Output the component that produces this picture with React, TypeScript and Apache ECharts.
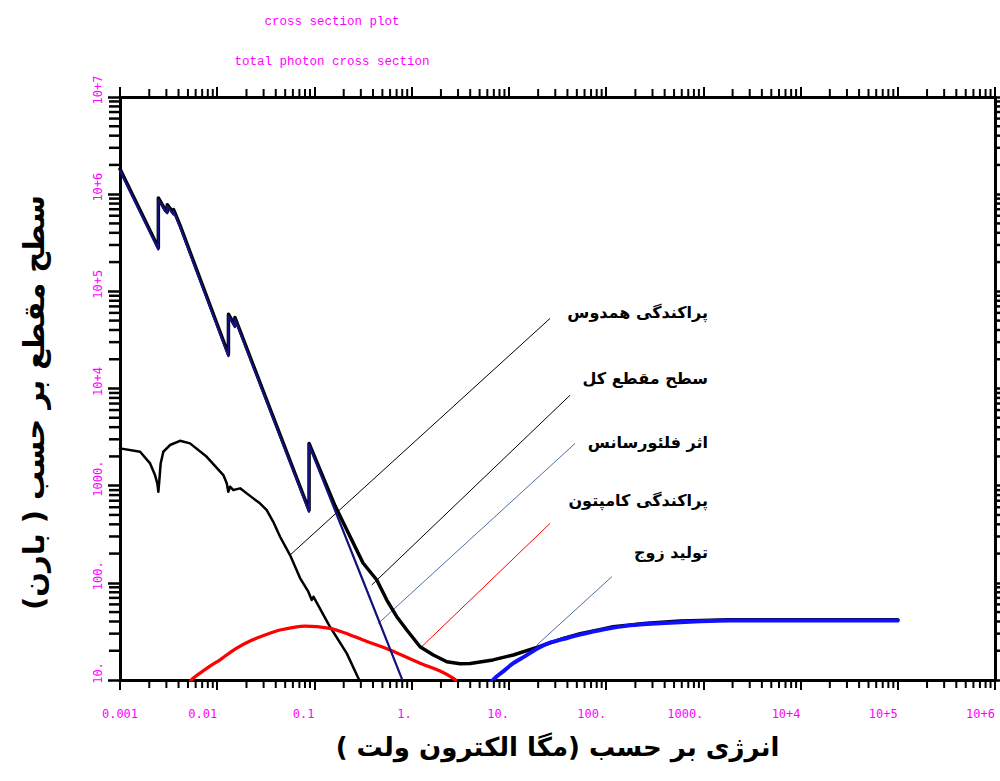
import React, { useEffect, useRef } from 'react';
import * as echarts from 'echarts';

// Axis ranges (MeV on x, barn on y)
const X_MIN = 0.001;
const X_MAX = 1e6;
const Y_MIN = 10;
const Y_MAX = 1e7;

const xTickLabels = ['0.001', '0.01', '0.1', '1.', '10.', '100.', '1000.', '10+4', '10+5', '10+6'];
const yTickLabels = ['10.', '100.', '1000.', '10+4', '10+5', '10+6', '10+7'];

// [energy (MeV), cross section (barn)]
const totalCross = [
  [0.001, 1.81e6], [0.00248, 2.81e5], [0.00248, 9.15e5], [0.0029, 6.97e5], [0.00306, 6.6e5],
  [0.00306, 7.8e5], [0.00355, 6.4e5], [0.00355, 6.97e5], [0.00414, 4.79e5], [0.01304, 2.24e4],
  [0.01304, 5.82e4], [0.0152, 4.45e4], [0.0152, 5.39e4], [0.088, 560], [0.088, 2720],
  [0.163, 620], [0.316, 160], [0.438, 107], [0.555, 66.5], [0.703, 44.8], [0.891, 32.7],
  [1.22, 22.0], [1.67, 18.1], [2.3, 15.4], [3.15, 14.7], [3.99, 14.8], [6.87, 16.1],
  [11.1, 18.1], [19.4, 21.7], [36.4, 26.8], [54, 30.0], [93, 33.5], [118, 35.3], [262, 38.3],
  [577, 40.5], [1890, 41.6], [1e5, 41.6],
];

const photoelectric = [
  [0.001, 1.74e6], [0.00248, 2.7e5], [0.00248, 8.8e5], [0.0029, 6.7e5], [0.00306, 6.35e5],
  [0.00306, 7.5e5], [0.00355, 6.15e5], [0.00355, 6.7e5], [0.00414, 4.61e5], [0.01304, 2.15e4],
  [0.01304, 5.6e4], [0.0152, 4.28e4], [0.0152, 5.18e4], [0.088, 538], [0.088, 2620],
  [0.316, 105], [0.79, 10.4], [0.95, 6.6],
];

const coherent = [
  [0.001, 2420], [0.00161, 2234], [0.00204, 1694], [0.00229, 1285], [0.00242, 1057],
  [0.00248, 865], [0.00254, 1143], [0.00262, 1694], [0.00279, 2234], [0.00327, 2620],
  [0.00414, 2897], [0.00525, 2723], [0.0078, 1982], [0.01156, 1285], [0.01253, 1057],
  [0.013, 865], [0.01355, 975], [0.01466, 902], [0.01718, 938], [0.0235, 740], [0.0275, 658],
  [0.0323, 561], [0.0377, 425], [0.0443, 298], [0.0561, 193], [0.0711, 112], [0.0865, 81],
  [0.0938, 66.5], [0.0976, 72], [0.1445, 35.3], [0.215, 18.8], [0.283, 10.4], [0.31, 8.6],
];

const compton = [
  [0.00501, 9.1], [0.00564, 10.4], [0.00843, 13.9], [0.01069, 16.1], [0.01525, 20.8],
  [0.02173, 25.2], [0.031, 29.0], [0.0443, 32.7], [0.08, 35.9], [0.1445, 34.0], [0.2065, 30.5],
  [0.316, 25.8], [0.6, 20.4], [1.22, 14.9], [1.96, 12.4], [2.69, 10.4], [3.15, 9.1],
];

const pairProduction = [
  [6.41, 9.1], [7.21, 10.5], [9.14, 12.7], [11.1, 14.9], [14.7, 17.6], [19.4, 21.0],
  [26.5, 24.2], [36.4, 26.4], [54, 29.3], [93, 33.0], [177, 36.5], [359, 38.3], [927, 40.2],
  [1890, 41.0], [1e5, 41.0],
];

// Annotation texts and their pointer lines (start near the text, end on the curve)
const curveNames = ['پراکندگی همدوس', 'سطح مقطع کل', 'اثر فلئورسانس', 'پراکندگی کامپتون', 'تولید زوج'];
const pointerFrom = [[26.5, 52600], [42.7, 8550], [48, 2723], [26.5, 409], [115, 116]];
const pointerTo = [[0.0561, 193], [0.388, 94.9], [0.454, 38.3], [1.22, 21.2], [19.4, 22.9]];
const pointerColors = ['#000000', '#000000', '#4f6f9f', '#ff0000', '#4f6f9f'];
const nameRowY = [312, 378, 442, 500, 552];

const MAGENTA = '#ff00ff';
const ARABIC_FONT = '"DejaVu Sans", "Noto Sans", sans-serif';
const RLM = '\u200F';

const minorSteps = [2, 3, 4, 5, 6, 7, 8, 9];
function minorTicks(fromExp: number, toExp: number): number[] {
  const out: number[] = [];
  for (let e = fromExp; e < toExp; e++) {
    for (const m of minorSteps) out.push(m * Math.pow(10, e));
  }
  return out;
}

function decadeLabel(labels: string[], firstExp: number) {
  return (v: number) => {
    const i = Math.round(Math.log10(v)) - firstExp;
    return labels[i] ?? '';
  };
}

const tickLabelStyle = {
  color: MAGENTA,
  fontFamily: '"DejaVu Sans Mono", "Liberation Mono", monospace',
  fontSize: 12,
};

function buildOption() {
  const xMinor = minorTicks(-3, 6);
  const yMinor = minorTicks(1, 7);

  const xTickSeries = {
    type: 'custom',
    silent: true,
    clip: false,
    z: 5,
    data: xMinor.map((v) => [v, Y_MIN]),
    renderItem: (_p: any, api: any) => {
      const v = api.value(0);
      const b = api.coord([v, Y_MIN]);
      const t = api.coord([v, Y_MAX]);
      const style = { stroke: '#000', lineWidth: 2 };
      return {
        type: 'group',
        children: [
          { type: 'line', shape: { x1: b[0], y1: b[1], x2: b[0], y2: b[1] + 8 }, style },
          { type: 'line', shape: { x1: t[0], y1: t[1], x2: t[0], y2: t[1] - 8 }, style },
        ],
      };
    },
  };

  const yTickSeries = {
    type: 'custom',
    silent: true,
    clip: false,
    z: 5,
    data: yMinor.map((v) => [X_MIN, v]),
    renderItem: (_p: any, api: any) => {
      const v = api.value(1);
      const l = api.coord([X_MIN, v]);
      const r = api.coord([X_MAX, v]);
      const style = { stroke: '#000', lineWidth: 2.5 };
      return {
        type: 'group',
        children: [
          { type: 'line', shape: { x1: l[0], y1: l[1], x2: l[0] - 11, y2: l[1] }, style },
          { type: 'line', shape: { x1: r[0], y1: r[1], x2: r[0] + 11, y2: r[1] }, style },
        ],
      };
    },
  };

  const pointerSeries = pointerFrom.map((from, i) => ({
    type: 'line',
    silent: true,
    symbol: 'none',
    z: 1,
    data: [from, pointerTo[i]],
    lineStyle: { color: pointerColors[i], width: 1 },
  }));

  const curve = (data: number[][], color: string, width: number, z: number, smooth = 0) => ({
    type: 'line',
    silent: true,
    symbol: 'none',
    z,
    data,
    smooth,
    lineStyle: { color, width, cap: 'round', join: 'round' },
  });

  const axisLine = { show: true, onZero: false, lineStyle: { color: '#000', width: 3 } };
  const nameStyle = { fontFamily: ARABIC_FONT, fontWeight: 'bold', color: '#000' };
  const titleFont = '12.5px "Liberation Mono", "DejaVu Sans Mono", monospace';

  return {
    animation: false,
    backgroundColor: '#ffffff',
    grid: { left: 120, top: 97, right: 5, bottom: 101, containLabel: false },
    xAxis: [
      {
        type: 'log',
        logBase: 10,
        min: X_MIN,
        max: X_MAX,
        splitNumber: 9,
        position: 'bottom',
        axisLine,
        axisTick: { show: true, length: 10, lineStyle: { color: '#000', width: 2 } },
        splitLine: { show: false },
        axisLabel: {
          ...tickLabelStyle,
          margin: 28,
          align: 'right',
          alignMinLabel: 'center',
          formatter: decadeLabel(xTickLabels, -3),
        },
        name: 'انرژی بر حسب (مگا الکترون ولت )' + RLM,
        nameLocation: 'middle',
        nameGap: 54,
        nameTextStyle: { ...nameStyle, fontSize: 26 },
      },
      {
        type: 'log',
        logBase: 10,
        min: X_MIN,
        max: X_MAX,
        splitNumber: 9,
        position: 'top',
        axisLine,
        axisTick: { show: true, length: 10, lineStyle: { color: '#000', width: 2 } },
        splitLine: { show: false },
        axisLabel: { show: false },
      },
    ],
    yAxis: [
      {
        type: 'log',
        logBase: 10,
        min: Y_MIN,
        max: Y_MAX,
        splitNumber: 6,
        position: 'left',
        axisLine,
        axisTick: { show: true, length: 12, lineStyle: { color: '#000', width: 2.5 } },
        splitLine: { show: false },
        axisLabel: {
          ...tickLabelStyle,
          rotate: 90,
          margin: 16,
          padding: [0, 0, 0, 14],
          formatter: decadeLabel(yTickLabels, 1),
        },
        name: 'سطح مقطع بر حسب ( بارن)' + RLM,
        nameLocation: 'middle',
        nameRotate: 90,
        nameGap: 72,
        nameTextStyle: { ...nameStyle, fontSize: 29, padding: [0, 28, 0, 0] },
      },
      {
        type: 'log',
        logBase: 10,
        min: Y_MIN,
        max: Y_MAX,
        splitNumber: 6,
        position: 'right',
        axisLine,
        axisTick: { show: true, length: 12, lineStyle: { color: '#000', width: 2.5 } },
        splitLine: { show: false },
        axisLabel: { show: false },
      },
    ],
    graphic: [
      {
        type: 'text',
        x: 332,
        y: 22,
        silent: true,
        style: {
          text: 'cross section plot',
          fill: MAGENTA,
          font: titleFont,
          textAlign: 'center',
          textVerticalAlign: 'middle',
          align: 'center',
          verticalAlign: 'middle',
        },
      },
      {
        type: 'text',
        x: 332,
        y: 62,
        silent: true,
        style: {
          text: 'total photon cross section',
          fill: MAGENTA,
          font: titleFont,
          textAlign: 'center',
          textVerticalAlign: 'middle',
          align: 'center',
          verticalAlign: 'middle',
        },
      },
      ...curveNames.map((t, i) => ({
        type: 'text',
        x: 708,
        y: nameRowY[i],
        silent: true,
        z: 20,
        style: {
          text: t,
          fill: '#000',
          font: 'bold 16px ' + ARABIC_FONT,
          textAlign: 'right',
          textVerticalAlign: 'middle',
          align: 'right',
          verticalAlign: 'middle',
        },
      })),
    ],
    series: [
      ...pointerSeries,
      curve(totalCross, '#000000', 3.5, 2),
      curve(coherent, '#000000', 2.5, 3),
      curve(compton, '#ff0000', 3.2, 3, 0.25),
      curve(pairProduction, '#1010ff', 4, 4, 0.25),
      curve(photoelectric, '#12127e', 2.2, 4),
      xTickSeries,
      yTickSeries,
    ],
  };
}

export default function App() {
  const ref = useRef<HTMLDivElement>(null);

  useEffect(() => {
    if (!ref.current) return;
    const chart = echarts.init(ref.current, null, { renderer: 'svg' });
    chart.setOption(buildOption() as any);
    return () => chart.dispose();
  }, []);

  return (
    <div
      ref={ref}
      style={{ position: 'absolute', left: 0, top: 0, width: 1000, height: 781, background: '#ffffff' }}
    />
  );
}
